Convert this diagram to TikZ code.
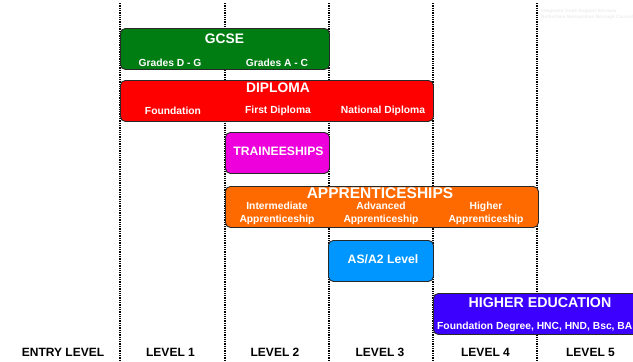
\documentclass[tikz,border=0pt]{standalone}
\usepackage{fontspec}
\setmainfont{Liberation Sans}
\definecolor{gcsegreen}{RGB}{0,125,18}
\definecolor{dipred}{RGB}{255,0,0}
\definecolor{trainmag}{RGB}{238,0,220}
\definecolor{apporange}{RGB}{255,106,0}
\definecolor{asblue}{RGB}{0,150,255}
\definecolor{hepurple}{RGB}{60,0,255}
\definecolor{edgegray}{RGB}{40,40,40}
\definecolor{wmgray}{RGB}{236,236,236}
\tikzset{
  gridline/.style={line width=1.3pt, dash pattern=on 1.3pt off 1pt, black},
  box/.style={draw=edgegray, line width=0.9pt, rounded corners=5pt, inner sep=0pt, anchor=north west},
  ttl/.style={text=white, font=\bfseries, inner sep=0pt, anchor=center},
  sub/.style={text=white, font=\bfseries\fontsize{10.3}{13}\selectfont, inner sep=0pt, anchor=center, align=center},
  lvl/.style={text=black, font=\bfseries\fontsize{12}{14}\selectfont, inner sep=0pt, anchor=center},
  wm/.style={text=wmgray, font=\bfseries\fontsize{4.6}{5.5}\selectfont, inner sep=0pt, anchor=west}
}
\begin{document}
\begin{tikzpicture}[x=1pt,y=-1pt]
\useasboundingbox (0,0) rectangle (633,362);
\clip (0,0) rectangle (633,362);
% grid lines
\foreach \gx in {120,225,329,433,537} {
  \draw[gridline] (\gx,3) -- (\gx,362);
}
% watermark
\node[wm] (wm1) at (541,11) {Integrated Youth Support Services};
\node[wm] (wm2) at (541,17) {Rotherham Metropolitan Borough Council};
% GCSE
\node[box, fill=gcsegreen, minimum width=209pt, minimum height=41pt] (gcse) at (120,28) {};
\node[ttl, font=\bfseries\fontsize{13.8}{16}\selectfont] (gcset) at (224.5,38.5) {GCSE};
\node[sub] (gcse1) at (170,62.5) {Grades D - G};
\node[sub] (gcse2) at (277,62.5) {Grades A - C};
% DIPLOMA
\node[box, fill=dipred, minimum width=313pt, minimum height=41pt] (dip) at (120,80) {};
\node[ttl, font=\bfseries\fontsize{13.8}{16}\selectfont] (dipt) at (278,87.5) {DIPLOMA};
\node[sub] (dip1) at (173,111) {Foundation};
\node[sub] (dip2) at (278,111) {First Diploma};
\node[sub] (dip3) at (383,111) {National Diploma};
% TRAINEESHIPS
\node[box, fill=trainmag, minimum width=104pt, minimum height=41pt] (train) at (225,132) {};
\node[ttl, font=\bfseries\fontsize{12.2}{14}\selectfont] (traint) at (278.5,151.5) {TRAINEESHIPS};
% APPRENTICESHIPS
\node[box, fill=apporange, minimum width=313pt, minimum height=41pt] (app) at (225,186) {};
\node[ttl, font=\bfseries\fontsize{15.5}{18}\selectfont] (appt) at (380,193) {APPRENTICESHIPS};
\node[sub] (app1) at (277,213.5) {Intermediate\\Apprenticeship};
\node[sub] (app2) at (381,213.5) {Advanced\\Apprenticeship};
\node[sub] (app3) at (486,213.5) {Higher\\Apprenticeship};
% AS/A2
\node[box, fill=asblue, minimum width=105pt, minimum height=41pt] (as) at (328,240) {};
\node[ttl, font=\bfseries\fontsize{12.2}{14}\selectfont] (ast) at (383,259.5) {AS/A2 Level};
% HIGHER EDUCATION
\node[box, fill=hepurple, minimum width=214pt, minimum height=41pt] (he) at (433,293) {};
\node[ttl, font=\bfseries\fontsize{14.2}{16}\selectfont] (het) at (540,303) {HIGHER EDUCATION};
\node[sub, anchor=west] (he1) at (437,327) {Foundation Degree, HNC, HND, Bsc, BA};
% level labels
\node[lvl] (l0) at (63,352.5) {ENTRY LEVEL};
\node[lvl] (l1) at (170.5,352.5) {LEVEL 1};
\node[lvl] (l2) at (275,352.5) {LEVEL 2};
\node[lvl] (l3) at (380,352.5) {LEVEL 3};
\node[lvl] (l4) at (485.5,352.5) {LEVEL 4};
\node[lvl] (l5) at (590.5,352.5) {LEVEL 5};
\end{tikzpicture}
\end{document}
